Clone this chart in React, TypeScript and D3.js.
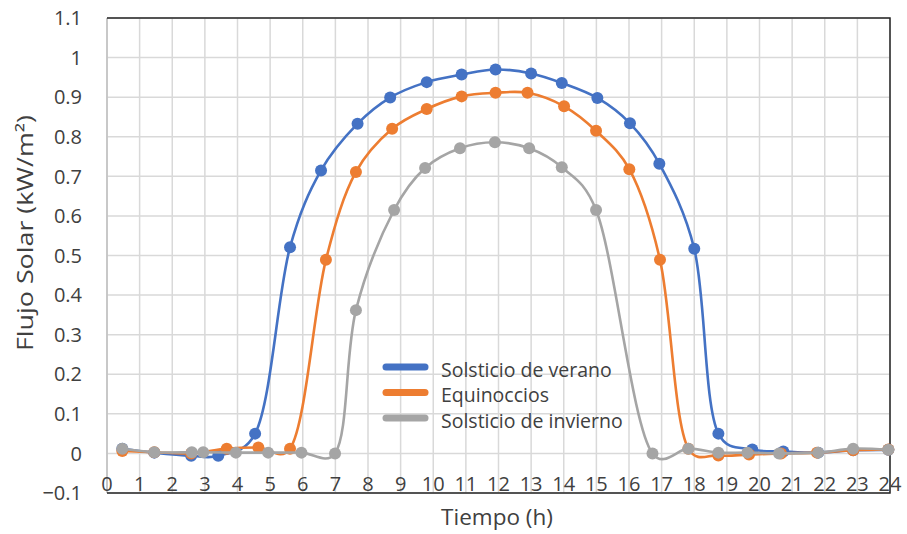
import React from "react";
import * as d3 from "d3";

const veranoX = [0.47, 1.45, 2.58, 3.41, 4.54, 5.61, 6.56, 7.68, 8.68, 9.8, 10.87, 11.91, 13.0, 13.94, 15.03, 16.03, 16.93, 18.0, 18.74, 19.78, 20.73, 21.8, 22.87, 23.95];
const veranoY = [0.012, 0.002, -0.006, -0.006, 0.05, 0.521, 0.715, 0.833, 0.899, 0.938, 0.957, 0.97, 0.96, 0.936, 0.898, 0.834, 0.732, 0.517, 0.05, 0.01, 0.005, 0.002, 0.008, 0.009];

const equinocciosX = [0.47, 1.45, 2.58, 3.67, 4.64, 5.61, 6.71, 7.63, 8.74, 9.8, 10.87, 11.91, 12.89, 14.01, 14.99, 16.01, 16.95, 17.82, 18.74, 19.68, 20.66, 21.76, 22.87, 23.95];
const equinocciosY = [0.006, 0.003, 0.0, 0.012, 0.015, 0.012, 0.489, 0.711, 0.82, 0.87, 0.902, 0.911, 0.911, 0.877, 0.815, 0.718, 0.489, 0.012, -0.005, -0.003, 0.0, 0.002, 0.008, 0.01];

const inviernoX = [0.47, 1.45, 2.6, 2.95, 3.95, 4.94, 5.96, 6.99, 7.63, 8.8, 9.75, 10.82, 11.89, 12.94, 13.94, 14.99, 16.72, 17.82, 18.74, 19.63, 20.6, 21.8, 22.87, 23.95];
const inviernoY = [0.012, 0.003, 0.003, 0.003, 0.002, 0.002, 0.002, 0.0, 0.362, 0.615, 0.721, 0.771, 0.786, 0.771, 0.723, 0.615, 0.0, 0.012, 0.002, 0.002, 0.0, 0.002, 0.012, 0.009];

const seriesNames = ["Solsticio de verano", "Equinoccios", "Solsticio de invierno"];
const seriesColors = ["#4472C4", "#ED7D31", "#A5A5A5"];

const xTicks = d3.range(0, 25, 1);
const yTicks = [-0.1, 0, 0.1, 0.2, 0.3, 0.4, 0.5, 0.6, 0.7, 0.8, 0.9, 1, 1.1];

const xTitle = "Tiempo (h)";
const yTitle = "Flujo Solar (kW/m²)";

const W = 907;
const H = 534;
const left = 107;
const right = 890;
const top = 18;
const bottom = 493;

export default function App() {
  const x = d3.scaleLinear().domain([0, 24]).range([left, right]);
  const y = d3.scaleLinear().domain([-0.1, 1.1]).range([bottom, top]);

  const series = [
    { xs: veranoX, ys: veranoY },
    { xs: equinocciosX, ys: equinocciosY },
    { xs: inviernoX, ys: inviernoY },
  ].map((s, i) => ({
    name: seriesNames[i],
    color: seriesColors[i],
    pts: s.xs.map((v, j) => [v, s.ys[j]] as [number, number]),
  }));

  const line = d3
    .line<[number, number]>()
    .x((d) => x(d[0]))
    .y((d) => y(d[1]))
    .curve(d3.curveCatmullRom.alpha(0.3));

  const font = "'Open Sans', 'Noto Sans', sans-serif";
  const textColor = "#404040";

  const yFmt = (v: number) => (Math.abs(v) < 1e-9 ? "0" : d3.format("~g")(+v.toFixed(1)));

  return (
    <div style={{ position: "absolute", left: 0, top: 0 }}>
      <svg width={W} height={H} style={{ display: "block", background: "#fff" }}>
        <rect x={0} y={0} width={W} height={H} fill="#fff" />
        {yTicks.map((t) => (
          <line key={"h" + t} x1={left} x2={right} y1={y(t)} y2={y(t)} stroke="#d9d9d9" strokeWidth={1.5} />
        ))}
        {xTicks.map((t) => (
          <line key={"v" + t} x1={x(t)} x2={x(t)} y1={top} y2={bottom} stroke="#d9d9d9" strokeWidth={1.5} />
        ))}
        <line x1={left} x2={left} y1={top} y2={bottom} stroke="#bfbfbf" strokeWidth={1.5} />
        <path d={`M${left},${top} H${right} V${bottom} H${left}`} fill="none" stroke="#262626" strokeWidth={1.5} />

        {series.map((s) => (
          <g key={s.name}>
            <path d={line(s.pts) || ""} fill="none" stroke={s.color} strokeWidth={2.6} />
            {s.pts.map((p, j) => (
              <circle key={j} cx={x(p[0])} cy={y(p[1])} r={6} fill={s.color} />
            ))}
          </g>
        ))}

        {yTicks.map((t) => (
          <text key={"yl" + t} x={82} y={y(t)} dy="0.36em" textAnchor="end" fontFamily={font} fontSize={20} fill={textColor}>
            {yFmt(t)}
          </text>
        ))}
        {xTicks.map((t) => (
          <text key={"xl" + t} x={x(t)} y={491} textAnchor="middle" fontFamily={font} fontSize={20} fill={textColor}>
            {t}
          </text>
        ))}

        <text x={497} y={525} textAnchor="middle" fontFamily={font} fontSize={22.5} fill={textColor}>
          {xTitle}
        </text>
        <text
          transform={`translate(33,${233}) rotate(-90)`}
          textAnchor="middle"
          fontFamily={font}
          fontSize={22}
          fill={textColor}
          textLength={236}
          lengthAdjust="spacingAndGlyphs"
        >
          {yTitle}
        </text>

        {series.map((s, i) => {
          const ly = 367 + i * 25.5;
          return (
            <g key={"lg" + i}>
              <line x1={386} x2={425} y1={ly} y2={ly} stroke={s.color} strokeWidth={7} strokeLinecap="round" />
              <text x={441} y={ly + 9.5} fontFamily={font} fontSize={19.5} fill={textColor}>
                {s.name}
              </text>
            </g>
          );
        })}
      </svg>
    </div>
  );
}
